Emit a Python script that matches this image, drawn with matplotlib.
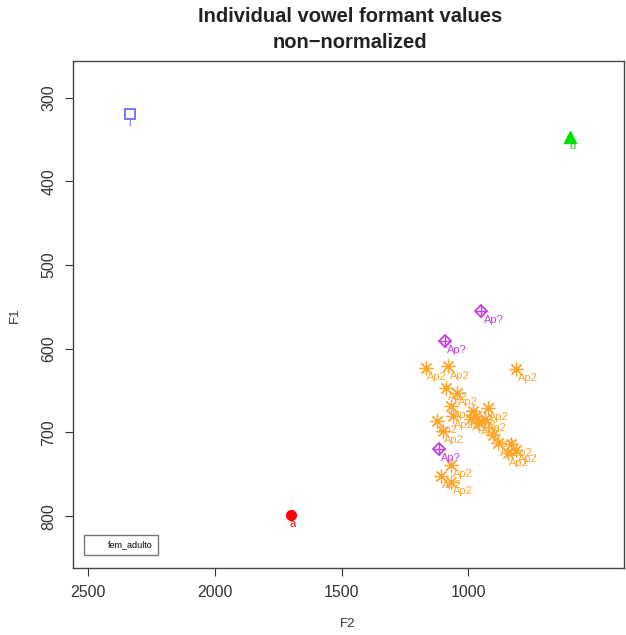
import matplotlib
matplotlib.use("Agg")
import matplotlib.pyplot as plt
from matplotlib.lines import Line2D

plt.rcParams['font.family'] = ['Liberation Sans', 'DejaVu Sans']

# reference vowels
vowel_labels = ['i', 'u', 'a']
vowel_f2 = [2335, 598, 1701]
vowel_f1 = [319, 347, 799]

# tokens labelled "Ap2"
ap2_f2 = [1169, 1079, 811, 1087, 1047, 1067, 1063, 984, 972, 992, 925, 933,
          1126, 1102, 957, 902, 882, 831, 811, 846, 1067, 1110, 1067]
ap2_f1 = [623, 621, 624, 647, 653, 668, 680, 674, 680, 684, 671, 684,
          686, 698, 689, 703, 713, 714, 721, 725, 739, 752, 759]

# tokens labelled "Ap?"
apq_f2 = [949, 1094, 1118]
apq_f1 = [555, 591, 720]

fig = plt.figure(figsize=(6.26, 6.35), dpi=100)
ax = fig.add_axes([73/626, 1 - 568/635, 551/626, 507/635])

lab_kw = dict(textcoords='offset points', ha='left', va='top', fontsize=8)

# i, u, a
ax.plot(vowel_f2[0], vowel_f1[0], marker='s', ms=6.5, mfc='none', mec='#6a6aff', mew=1.3, ls='none')
ax.plot(vowel_f2[1], vowel_f1[1], marker='^', ms=8, color='#00e000', ls='none')
ax.plot(vowel_f2[2], vowel_f1[2], marker='o', ms=7, color='#ff0000', ls='none')
vowel_cols = ['#6a6aff', '#00e000', '#ff0000']
for lab, x, y, c in zip(vowel_labels, vowel_f2, vowel_f1, vowel_cols):
    ax.annotate(lab, (x, y), xytext=(-1, -3), color=c, **lab_kw)

# Ap2 asterisks
orange = '#ffa52a'
ax.plot(ap2_f2, ap2_f1, marker=(8, 2, 0), ms=10, mec=orange, mew=0.9, ls='none')
for x, y in zip(ap2_f2, ap2_f1):
    ax.annotate('Ap2', (x, y), xytext=(1, -3), color=orange, **lab_kw)

# Ap? diamonds with plus
purple = '#c63ee0'
ax.plot(apq_f2, apq_f1, marker='D', ms=6, mfc='none', mec=purple, mew=1.3, ls='none')
ax.plot(apq_f2, apq_f1, marker='+', ms=8, mec=purple, mew=1.0, ls='none')
for x, y in zip(apq_f2, apq_f1):
    ax.annotate('Ap?', (x, y), xytext=(2, -3), color=purple, **lab_kw)

ax.set_xlim(2559, 387)
ax.set_ylim(862, 256)
ax.set_xticks([2500, 2000, 1500, 1000])
ax.set_yticks([300, 400, 500, 600, 700, 800])
ax.tick_params(direction='out', length=6, width=0.8, colors='#333333', labelsize=11.5, pad=6)
for lab in ax.get_yticklabels():
    lab.set_rotation(90)
    lab.set_va('center')
for s in ax.spines.values():
    s.set_color('#444444')
    s.set_linewidth(1.0)

fig.text(15/626, 1 - 315/635, 'F1', rotation=90, ha='center', va='center', fontsize=9.5, color='#333333')
fig.text(348/626, 1 - 624/635, 'F2', ha='center', va='center', fontsize=9.5, color='#333333')
fig.text(350/626, 1 - 17/635, 'Individual vowel formant values', ha='center', va='center',
         fontsize=14.5, fontweight='bold', color='#222222')
fig.text(350/626, 1 - 43/635, 'non\u2212normalized', ha='center', va='center',
         fontsize=14.5, fontweight='bold', color='#222222')

leg = ax.legend(handles=[Line2D([], [], ls='none')], labels=['fem_adulto'],
                loc='lower left', bbox_to_anchor=(11/551, 13/507), borderaxespad=0,
                fontsize=6.5, fancybox=False, handlelength=1.2, handletextpad=0.8,
                borderpad=0.6, frameon=True)
leg.get_frame().set_edgecolor('#555555')
leg.get_frame().set_linewidth(1.0)

fig.savefig('out.png', dpi=100)
